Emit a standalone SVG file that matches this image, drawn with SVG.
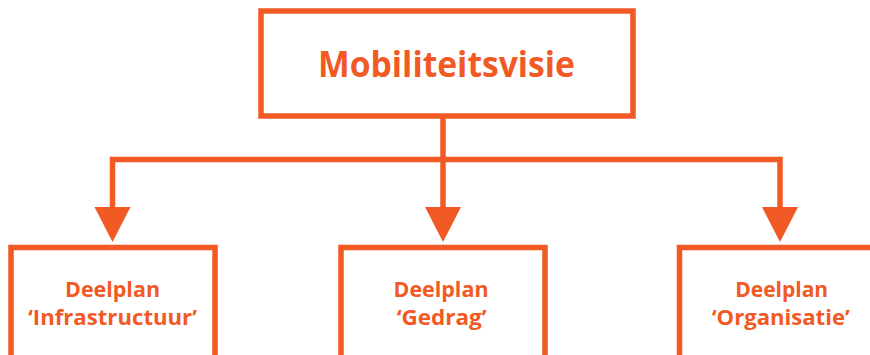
<svg xmlns="http://www.w3.org/2000/svg" width="870" height="355" viewBox="0 0 870 355">
<style>
.box{fill:#fff;stroke:#F15A24;stroke-width:5.5}
.con{fill:none;stroke:#F15A24;stroke-width:5.5;stroke-linejoin:miter}
.t{font-family:"Open Sans","Noto Sans",sans-serif;font-weight:bold;fill:#F15A24;text-anchor:middle}
.title{font-size:36px}
.sub{font-size:22px}
</style>
<defs>
<marker id="arr" markerUnits="userSpaceOnUse" markerWidth="36" markerHeight="37" viewBox="0 -18.5 36 37" refX="0" refY="0" orient="auto">
<path d="M0,-18 L35,0 L0,18 Z" fill="#F15A24"/>
</marker>
</defs>
<rect width="870" height="355" fill="#fff"/>
<g id="connectors">
<path class="con" d="M443,116 V207" marker-end="url(#arr)"/>
<path class="con" d="M443,159.5 H112.5 V207" marker-end="url(#arr)"/>
<path class="con" d="M443,159.5 H780 V207" marker-end="url(#arr)"/>
</g>
<g id="mobiliteitsvisie">
<rect class="box" x="261" y="11" width="372" height="105"/>
<text class="t title" x="446.5" y="77" textLength="257" lengthAdjust="spacingAndGlyphs">Mobiliteitsvisie</text>
</g>
<g id="infrastructuur">
<rect class="box" x="11" y="247.5" width="204" height="130"/>
<text class="t sub" x="112.5" y="297" textLength="95" lengthAdjust="spacingAndGlyphs">Deelplan</text>
<text class="t sub" x="112.5" y="325" textLength="169" lengthAdjust="spacingAndGlyphs">‘Infrastructuur’</text>
</g>
<g id="gedrag">
<rect class="box" x="341" y="247.5" width="204" height="130"/>
<text class="t sub" x="441" y="297" textLength="95" lengthAdjust="spacingAndGlyphs">Deelplan</text>
<text class="t sub" x="441.7" y="325" textLength="90" lengthAdjust="spacingAndGlyphs">‘Gedrag’</text>
</g>
<g id="organisatie">
<rect class="box" x="679.5" y="247.5" width="204" height="130"/>
<text class="t sub" x="781.7" y="297" textLength="93" lengthAdjust="spacingAndGlyphs">Deelplan</text>
<text class="t sub" x="780.8" y="325" textLength="138" lengthAdjust="spacingAndGlyphs">‘Organisatie’</text>
</g>
</svg>
